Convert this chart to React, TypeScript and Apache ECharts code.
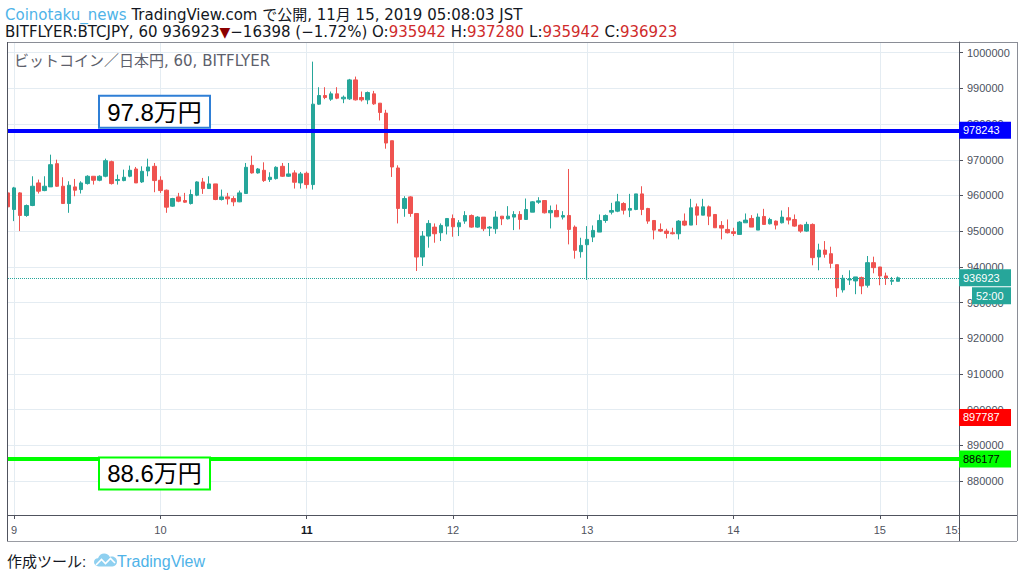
import React, { useEffect, useRef } from "react";
import * as echarts from "echarts";

const FONT = "'Liberation Sans', Arial, 'Noto Sans CJK JP', sans-serif";
const HEAD_FONT = "'DejaVu Sans', 'Noto Sans CJK JP', sans-serif";

// Hourly BTC/JPY candles (bitFlyer) starting Nov 8 23:00 JST: [open, close, low, high]
const candles: number[][] = [
  [960720, 956810, 949550, 963980], [956070, 962120, 952810, 962400], [960720, 954390, 950020, 960910],
  [954390, 957180, 954020, 957460], [957180, 962580, 957000, 965380], [963510, 961190, 960540, 964450],
  [961370, 962580, 961190, 965380], [962400, 968630, 962400, 971430], [968910, 962580, 962400, 970030],
  [962580, 957740, 957740, 965100], [957740, 962860, 955140, 963980], [962400, 961470, 959790, 964630],
  [961650, 963510, 960540, 963980], [963330, 965380, 963050, 965660], [965380, 964260, 963050, 965380],
  [964260, 965380, 963980, 965660], [965380, 969750, 965100, 970310], [969470, 963330, 963050, 969750],
  [964170, 964450, 963050, 965840], [964170, 965100, 963980, 967240], [965380, 967050, 965100, 968360],
  [967420, 963510, 963510, 967980], [963790, 966770, 963510, 968170], [966870, 967980, 965380, 970310],
  [968170, 964170, 960910, 969100], [964260, 961370, 960720, 965380], [961470, 956720, 955140, 961650],
  [957000, 959140, 956810, 959330], [959600, 958390, 958110, 960720], [958580, 958110, 957930, 960720],
  [957740, 960260, 957460, 961650], [960070, 963790, 959790, 963980], [963790, 961930, 960440, 964910],
  [961930, 963240, 961840, 965380], [963240, 958860, 958670, 963240], [958860, 959600, 958580, 961650],
  [959600, 959050, 957460, 960720], [959140, 958210, 957000, 959790], [958210, 960720, 958110, 961370],
  [960540, 967890, 960440, 969100], [968450, 966310, 966120, 971150], [966310, 967420, 966120, 967700],
  [967050, 964170, 963790, 969290], [964450, 965100, 963790, 966490], [964720, 967890, 964450, 968170],
  [968170, 965380, 965190, 969100], [965380, 966030, 965190, 969100], [966310, 963700, 961930, 967050],
  [963510, 966030, 961930, 966590], [966210, 963050, 961930, 966680], [963050, 985580, 961650, 997500],
  [985580, 988000, 985390, 990330], [988000, 987440, 986980, 990330], [986980, 988470, 986510, 989120],
  [988470, 987260, 986980, 990330], [987070, 987530, 985860, 988000], [987070, 992380, 986790, 992660],
  [992380, 986790, 986600, 993310], [987440, 986790, 986320, 989120], [986790, 988840, 985580, 989120],
  [988470, 985670, 985390, 989300], [985860, 983250, 981020, 985860], [983070, 974690, 973100, 984000],
  [975340, 967980, 965190, 975340], [967700, 956350, 952160, 968450], [956350, 959140, 954020, 959790],
  [959600, 954950, 954020, 959790], [954950, 942750, 938840, 954950], [942750, 948620, 940240, 950020],
  [948620, 952160, 945360, 953090], [951130, 949270, 946760, 952160], [949550, 951600, 947220, 952160],
  [951410, 953550, 949080, 953550], [953550, 951230, 948430, 954670], [951230, 952340, 948620, 953090],
  [952810, 954390, 952060, 955600], [954390, 951130, 950950, 954670], [951130, 953930, 950950, 954200],
  [953930, 950670, 950010, 953930], [950850, 951130, 948620, 951410], [950670, 953930, 949270, 955600],
  [954200, 953460, 951690, 954200], [953460, 954200, 953270, 957000], [953930, 954670, 950290, 955600],
  [954670, 953270, 950480, 955600], [953270, 956070, 953270, 959140], [955320, 958210, 955320, 958390],
  [958110, 958490, 957650, 959510], [958580, 955140, 954950, 958580], [955140, 955790, 950760, 957180],
  [955790, 954020, 953930, 957460], [953930, 954390, 953270, 955600], [954390, 950480, 946290, 967420],
  [951130, 944620, 942290, 951600], [944240, 946010, 942570, 948150], [946200, 947690, 936330, 951410],
  [948340, 950200, 946940, 951600], [949740, 952990, 949740, 954670], [952990, 954390, 952340, 954670],
  [955320, 955790, 954670, 957930], [955600, 958210, 955320, 960440], [957740, 955880, 954670, 958110],
  [955880, 956350, 953930, 960440], [956070, 960440, 955880, 960440], [960440, 956070, 954480, 962580],
  [956350, 952810, 952060, 956530], [952990, 950290, 947690, 952990], [950480, 950010, 949740, 952160],
  [950010, 949360, 947970, 950670], [949550, 949270, 949080, 950950], [949270, 952810, 947690, 953090],
  [952810, 951690, 951410, 954950], [951690, 956530, 951690, 959050], [956810, 954480, 951690, 957740],
  [954480, 956810, 954480, 959050], [956810, 954200, 951690, 957180], [954670, 950950, 950950, 954670],
  [951600, 950850, 947690, 952810], [950480, 949550, 949360, 953270], [949830, 949360, 948620, 950950],
  [949080, 952530, 949080, 952810], [952340, 953090, 952340, 954950], [953550, 951130, 951130, 954480],
  [950290, 953930, 950290, 954950], [954110, 951880, 951880, 956250], [952060, 953270, 951880, 953740],
  [952810, 951690, 950480, 952990], [952340, 953930, 952160, 955790], [953740, 953090, 951880, 956720],
  [953270, 951410, 951230, 954670], [951690, 950010, 949550, 951880], [950010, 951880, 949830, 952620],
  [951880, 942570, 940430, 952160], [942750, 944710, 939030, 946480], [944710, 943500, 942570, 947220],
  [943680, 940980, 939590, 945640], [940610, 934100, 931580, 940610], [933540, 936800, 932790, 937730],
  [936330, 936520, 934930, 939030], [936050, 937170, 932330, 937170], [936980, 934650, 932330, 937260],
  [934840, 941170, 934190, 943030], [941170, 939770, 938190, 942850], [939960, 937450, 934840, 939960],
  [937450, 936800, 934930, 938380], [935960, 936240, 934930, 937170], [935942, 936923, 935942, 937280],
];

// time axis: hourly slots (day 12 has 22 bars), labelled at day starts
const SLOT_COUNT = 157;
const dayTickSlots = [1, 25, 49, 73, 95, 119, 143, 155];
const dayTickLabels = ["9", "10", "11", "12", "13", "14", "15", "15:"];
const gridLineSlots = [1, 25, 49, 73, 95, 119, 143];
const boldTickLabel = "11";

// price axis
const priceMin = 870460;
const priceMax = 1003000;
const priceStep = 10000;

// drawn levels
const blueLevel = 978243;
const greenLevel = 886177;
const redLevel = 897787;
const blueNote = "97.8万円";
const greenNote = "88.6万円";
const countdown = "52:00";

// header
const author = "Coinotaku_news";
const publishText = " TradingView.com で公開, 11月 15, 2019 05:08:03 JST";
const symbolText = "BITFLYER:BTCJPY, 60 ";
const changeText = "−16398 (−1.72%)";
const legendText = "ビットコイン／日本円, 60, BITFLYER";

const UP = "#26a69a";
const DOWN = "#ef5350";

const logoPath =
  "M5 15 C2 15 0 13 0 10.5 C0 8 2 6.5 4.2 6.6 C5 3.5 7.6 1.5 10.6 1.5 C13.3 1.5 15.5 3 16.5 5.2 C17.2 4.9 18 4.8 18.8 4.8 C21.8 4.8 24 7.3 24 10.2 C24 12.9 21.9 15 19.3 15 Z";

let logoRegistered = false;

export default function App() {
  const ref = useRef<HTMLDivElement>(null);

  useEffect(() => {
    if (!ref.current) return;
    if (!logoRegistered) {
      echarts.graphic.registerShape("tvlogo", echarts.graphic.extendPath(logoPath, {}) as any);
      logoRegistered = true;
    }
    const chart = echarts.init(ref.current, undefined, { renderer: "svg" });
    const slots = Array.from({ length: SLOT_COUNT }, (_, i) => String(i));
    const labelMap = new Map<number, string>();
    dayTickSlots.forEach((s, k) => labelMap.set(s, dayTickLabels[k]));
    const gridSet = new Set(gridLineSlots);
    const last = candles[candles.length - 1];
    const lastClose = last[1];

    chart.setOption({
      animation: false,
      backgroundColor: "#ffffff",
      textStyle: { fontFamily: FONT },
      grid: { left: 8, right: 65, top: 42, bottom: 63 },
      xAxis: {
        type: "category",
        data: slots,
        boundaryGap: false,
        axisLine: { show: false },
        axisTick: {
          show: true,
          interval: (i: number) => gridSet.has(i),
          length: 4,
          lineStyle: { color: "#50535e" },
        },
        axisLabel: {
          interval: (i: number) => labelMap.has(i),
          formatter: (_v: string, i: number) => {
            const t = labelMap.get(i) || "";
            return t === boldTickLabel ? `{b|${t}}` : t;
          },
          color: "#50535e",
          fontSize: 11,
          margin: 9,
          fontFamily: FONT,
          rich: { b: { fontWeight: "bold", color: "#131722", fontSize: 11, fontFamily: FONT } },
        },
        splitLine: {
          show: true,
          interval: (i: number) => gridSet.has(i),
          lineStyle: { color: "#e4ecf2", width: 1 },
        },
      },
      yAxis: {
        type: "value",
        position: "right",
        scale: true,
        min: priceMin,
        max: priceMax,
        splitNumber: 13,
        minInterval: priceStep,
        maxInterval: priceStep,
        axisLine: { show: true, lineStyle: { color: "#50535e" } },
        axisTick: { show: true, length: 4, lineStyle: { color: "#50535e" } },
        axisLabel: {
          color: "#4c525e",
          fontSize: 11,
          margin: 8,
          showMinLabel: false,
          showMaxLabel: false,
          fontFamily: FONT,
          formatter: (v: number) => String(Math.round(v)),
        },
        splitLine: { show: true, lineStyle: { color: "#e4ecf2", width: 1 } },
      },
      series: [
        {
          type: "candlestick",
          data: candles,
          barWidth: 4,
          itemStyle: {
            color: UP,
            color0: DOWN,
            borderColor: UP,
            borderColor0: DOWN,
            borderWidth: 1,
          },
          markLine: {
            silent: true,
            symbol: ["none", "none"],
            label: { show: false },
            data: [
              { yAxis: lastClose, lineStyle: { color: UP, width: 1, type: "dotted" } },
              { yAxis: blueLevel, lineStyle: { color: "#0000ff", width: 4, type: "solid" } },
              { yAxis: greenLevel, lineStyle: { color: "#00ff00", width: 4, type: "solid" } },
            ],
          },
        },
      ],
    });

    const py = (v: number) => chart.convertToPixel({ yAxisIndex: 0 }, v) as number;
    const yBlue = py(blueLevel);
    const yGreen = py(greenLevel);
    const yRed = py(redLevel);
    const yLast = py(lastClose);

    const tag = (y: number, bg: string, fg: string, text: string, x = 959, w = 52) => [
      { type: "rect", z: 120, shape: { x, y: y - 8.5, width: w, height: 17 }, style: { fill: bg } },
      {
        type: "text",
        z: 121,
        x: x + 4,
        y,
        style: { text, fill: fg, fontSize: 11, fontFamily: FONT, verticalAlign: "middle", align: "left" },
      },
    ];

    const frame = "#50535e";
    const hline = (x1: number, x2: number, y: number, color: string) => ({
      type: "line",
      z: 110,
      shape: { x1, y1: y, x2, y2: y },
      style: { stroke: color, lineWidth: 1 },
    });
    const vline = (x: number, y1: number, y2: number, color: string) => ({
      type: "line",
      z: 110,
      shape: { x1: x, y1, x2: x, y2 },
      style: { stroke: color, lineWidth: 1 },
    });

    const noteBox = (y: number, stroke: string, text: string) => [
      {
        type: "rect",
        z: 90,
        shape: { x: 99, y, width: 111, height: 32 },
        style: { fill: "#ffffff", stroke, lineWidth: 2 },
      },
      {
        type: "text",
        z: 91,
        x: 154.5,
        y: y + 16.5,
        style: { text, fill: "#000000", fontSize: 24, fontFamily: FONT, align: "center", verticalAlign: "middle" },
      },
    ];

    chart.setOption({
      graphic: [
        // cover overflow left of pane
        { type: "rect", z: 105, shape: { x: 0, y: 40, width: 7, height: 480 }, style: { fill: "#ffffff" } },
        // frame
        hline(7, 1017, 42.5, "#8a8d96"),
        hline(7, 1017, 515.5, frame),
        hline(7, 1017, 541.5, "#9a9ca3"),
        vline(7.5, 42, 541, frame),
        vline(959.5, 42, 541, frame),
        vline(1017.5, 42, 541, "#8a8d96"),
        // header
        {
          type: "text",
          z: 130,
          x: 5,
          y: 15,
          style: {
            text: `{a|${author}}{k|${publishText}}`,
            verticalAlign: "middle",
            rich: {
              a: { fill: "#4fb3e8", fontSize: 15, fontFamily: HEAD_FONT },
              k: { fill: "#131722", fontSize: 15, fontFamily: HEAD_FONT },
            },
          },
        },
        {
          type: "text",
          z: 130,
          x: 5,
          y: 32,
          style: {
            text:
              `{k|${symbolText}${lastClose}}{t|▼}{k|${changeText} O:}{r|${last[0]}}` +
              `{k| H:}{r|${last[3]}}{k| L:}{r|${last[2]}}{k| C:}{r|${last[1]}}`,
            verticalAlign: "middle",
            rich: {
              k: { fill: "#131722", fontSize: 15, fontFamily: HEAD_FONT },
              r: { fill: "#cf2b2b", fontSize: 15, fontFamily: HEAD_FONT },
              t: { fill: "#8b0000", fontSize: 14, fontFamily: HEAD_FONT },
            },
          },
        },
        {
          type: "text",
          z: 130,
          x: 14,
          y: 61,
          style: { text: legendText, fill: "#5d606b", fontSize: 15, fontFamily: HEAD_FONT, verticalAlign: "middle" },
        },
        // annotations
        ...noteBox(yBlue - 34.5, "#2f7fd6", blueNote),
        ...noteBox(yGreen - 1.5, "#00ff00", greenNote),
        // price tags
        ...tag(yBlue, "#0000ff", "#ffffff", String(blueLevel)),
        ...tag(yRed, "#ff0000", "#ffffff", String(redLevel)),
        ...tag(yGreen, "#00ff00", "#000000", String(greenLevel)),
        ...tag(yLast, UP, "#ffffff", String(lastClose)),
        ...tag(yLast + 18, UP, "#ffffff", countdown, 972, 39),
        // footer
        {
          type: "text",
          z: 130,
          x: 7,
          y: 561,
          style: { text: "作成ツール: ", fill: "#131722", fontSize: 15, fontFamily: FONT, verticalAlign: "middle" },
        },
        {
          type: "tvlogo",
          z: 130,
          x: 94,
          y: 552,
          scaleX: 0.96,
          scaleY: 0.96,
          style: { fill: "#8fd0f0" },
        },
        {
          type: "polyline",
          z: 131,
          shape: { points: [[96, 565], [101.5, 559.5], [105.5, 563.5], [110.5, 558.5], [115, 563]] },
          style: { stroke: "#ffffff", lineWidth: 1.6, fill: "none" },
        },
        {
          type: "text",
          z: 130,
          x: 117,
          y: 561,
          style: { text: "TradingView", fill: "#4fb3e8", fontSize: 16, fontFamily: FONT, verticalAlign: "middle" },
        },
      ],
    });

    return () => chart.dispose();
  }, []);

  return (
    <div
      ref={ref}
      style={{ position: "fixed", left: 0, top: 0, width: 1024, height: 578, background: "#fff" }}
    />
  );
}
